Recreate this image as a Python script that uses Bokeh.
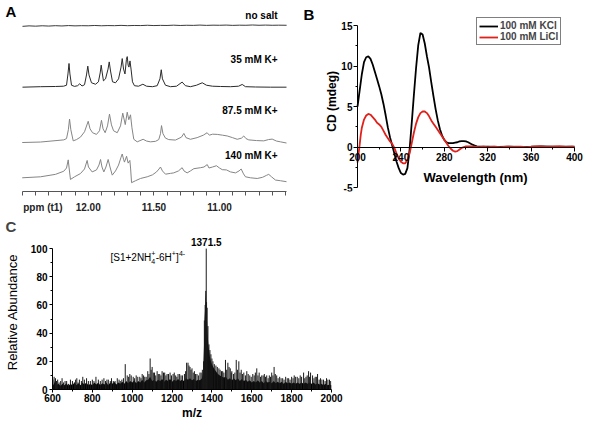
import math
from bokeh.plotting import figure
from bokeh.models import Range1d, FixedTicker, Label, Legend, LegendItem, PrintfTickFormatter, Title
from bokeh.layouts import column, row
from bokeh.embed import file_html
from bokeh.resources import INLINE

FONT = "Liberation Sans"

# ---------------- Panel A: 1H NMR imino region (ppm, intensity above own baseline) -------------
ppm_nosalt = [12.50, 12.45, 12.40, 12.35, 12.30, 12.25, 12.20, 12.15, 12.10, 12.05,
              12.00, 11.95, 11.90, 11.85, 11.80, 11.75, 11.70, 11.65, 11.60, 11.55,
              11.50, 11.45, 11.40, 11.35, 11.30, 11.25, 11.20, 11.15, 11.10, 11.05,
              11.00, 10.95, 10.90, 10.85, 10.80, 10.75, 10.70, 10.65, 10.60, 10.55, 10.49]
int_nosalt = [-0.4, 0.1, -0.2, 0.2, -0.1, 0.3, 0.0, 0.4, 0.1, 0.3,
              0.2, 0.5, 0.2, 0.4, 0.3, 0.6, 0.3, 0.5, 0.4, 0.7,
              0.4, 0.6, 0.5, 0.8, 0.5, 0.7, 0.6, 0.9, 0.6, 0.8,
              0.7, 0.9, 0.6, 0.8, 0.7, 1.0, 0.7, 0.9, 0.7, 0.8, 0.7]

ppm_35 = [12.500, 12.363, 12.249, 12.188, 12.165, 12.154, 12.146, 12.139, 12.127, 12.104,
          12.081, 12.064, 12.047, 12.028, 12.013, 12.003, 11.994, 11.975, 11.944, 11.922,
          11.909, 11.901, 11.893, 11.884, 11.868, 11.849, 11.840, 11.830, 11.815, 11.792,
          11.769, 11.750, 11.741, 11.731, 11.720, 11.709, 11.703, 11.696, 11.690, 11.682,
          11.674, 11.663, 11.648, 11.617, 11.584, 11.556, 11.511, 11.475, 11.454, 11.444,
          11.435, 11.412, 11.374, 11.328, 11.285, 11.260, 11.222, 11.176, 11.132, 11.100,
          11.054, 10.993, 10.917, 10.856, 10.828, 10.803, 10.727, 10.613, 10.491]
int_35 = [-0.5, 0.0, 0.2, 0.5, 1.5, 13.0, 23.7, 13.0, 1.5, 0.3,
          1.0, 3.0, 0.7, 2.0, 12.0, 21.0, 12.0, 4.0, 2.5, 5.0,
          14.0, 22.0, 14.0, 6.0, 8.0, 18.0, 25.3, 16.0, 5.0, 4.0,
          8.0, 20.0, 28.7, 18.0, 13.0, 28.0, 30.7, 22.0, 20.0, 26.3,
          18.0, 5.0, 1.0, 0.5, 2.5, 0.5, 0.0, 1.0, 8.0, 17.3,
          8.0, 1.5, 0.0, 0.5, 4.7, 1.0, 0.0, 1.5, 4.0, 1.5,
          0.5, 0.2, 0.0, 0.5, 2.3, 0.0, -0.3, -0.5, -0.5]

ppm_87 = [12.502, 12.363, 12.186, 12.165, 12.151, 12.142, 12.132, 12.114, 12.089, 12.059,
          12.028, 12.000, 11.986, 11.967, 11.937, 11.914, 11.899, 11.887, 11.871, 11.853,
          11.838, 11.823, 11.807, 11.779, 11.754, 11.737, 11.718, 11.703, 11.691, 11.678,
          11.667, 11.653, 11.627, 11.582, 11.556, 11.526, 11.488, 11.463, 11.450, 11.442,
          11.431, 11.412, 11.387, 11.336, 11.290, 11.272, 11.256, 11.222, 11.171, 11.124,
          11.095, 11.078, 11.054, 11.018, 10.978, 10.942, 10.902, 10.866, 10.833, 10.816,
          10.799, 10.778, 10.719, 10.664, 10.628, 10.600, 10.567, 10.537, 10.491]
int_87 = [0.0, 0.5, 2.7, 4.0, 13.0, 24.0, 13.0, 1.7, 3.0, 5.5,
          11.0, 21.7, 14.0, 10.0, 8.3, 12.0, 22.7, 14.0, 10.0, 17.0,
          29.0, 18.0, 12.0, 10.0, 17.0, 30.0, 18.3, 31.0, 23.3, 28.3,
          15.0, 3.3, 0.7, 3.3, 1.5, 0.7, 1.2, 3.0, 9.0, 17.3,
          9.0, 4.5, 3.0, 2.5, 5.5, 9.3, 5.0, 3.3, 5.0, 7.5,
          10.0, 7.5, 8.5, 8.3, 7.5, 6.7, 5.0, 3.3, 4.5, 6.7,
          4.0, 2.7, 2.0, 1.7, 3.0, 3.5, 1.5, 0.7, -0.5]

ppm_140 = [12.502, 12.363, 12.249, 12.186, 12.165, 12.152, 12.146, 12.135, 12.104, 12.059,
           12.028, 12.008, 11.998, 11.970, 11.937, 11.918, 11.906, 11.895, 11.881, 11.865,
           11.848, 11.834, 11.817, 11.792, 11.769, 11.750, 11.741, 11.731, 11.724, 11.708,
           11.696, 11.683, 11.677, 11.670, 11.640, 11.602, 11.551, 11.511, 11.480, 11.461,
           11.450, 11.435, 11.412, 11.374, 11.349, 11.313, 11.285, 11.271, 11.247, 11.222,
           11.196, 11.145, 11.119, 11.094, 11.081, 11.054, 11.024, 11.001, 10.980, 10.947,
           10.917, 10.879, 10.852, 10.836, 10.818, 10.803, 10.765, 10.714, 10.673, 10.643,
           10.626, 10.605, 10.575, 10.537, 10.491]
int_140 = [0.0, 1.0, 3.5, 6.7, 10.0, 18.3, 11.0, -1.7, 1.0, 4.3,
           9.0, 17.7, 11.0, 6.0, 8.0, 13.0, 18.7, 11.0, 6.0, 11.0,
           18.7, 11.0, 2.7, 7.0, 13.0, 21.0, 24.3, 19.0, 16.0, 22.0,
           15.0, 17.7, 9.0, -5.0, -3.0, -0.7, 1.0, 3.0, 6.0, 9.0,
           11.0, 7.0, 3.7, 4.5, 5.0, 7.0, 10.3, 7.0, 5.0, 7.0,
           9.3, 10.3, 11.0, 13.5, 10.0, 11.0, 12.3, 10.0, 8.3, 8.0,
           6.0, 5.0, 7.0, 9.0, 4.0, 1.0, 0.0, -0.7, 0.5, 2.5,
           3.5, 1.0, -2.3, -3.0, -4.0]

nmr_labels = ["no salt", "35 mM K+", "87.5 mM K+", "140 mM K+"]
ppm_axis_title = "ppm (t1)"
ppm_major = [12.0, 11.5, 11.0]
ppm_minor = [12.5, 12.4, 12.3, 12.2, 12.1, 12.0, 11.9, 11.8, 11.7, 11.6, 11.5,
             11.4, 11.3, 11.2, 11.1, 11.0, 10.9, 10.8, 10.7, 10.6, 10.5]

# ---------------- Panel B: CD spectra ----------------
nm_kcl = [200, 202, 204, 206, 208, 210, 212, 214, 216, 218,
          220, 222, 224, 226, 228, 230, 232, 234, 236, 238,
          240, 242, 244, 246, 248, 250, 252, 254, 256, 258,
          260, 262, 264, 266, 268, 270, 272, 274, 276, 278,
          280, 282, 284, 286, 288, 290, 292, 294, 296, 298,
          300, 302, 304, 306, 308, 310, 314, 320, 330, 340,
          350, 360, 370, 380, 390, 400]
cd_kcl = [5.0, 7.0, 9.0, 10.5, 11.1, 11.2, 10.9, 10.2, 9.3, 8.4,
          7.5, 6.5, 5.3, 3.9, 2.4, 1.2, 0.2, -0.8, -1.8, -2.6,
          -3.2, -3.4, -3.3, -2.6, -0.3, 3.0, 6.5, 9.8, 12.6, 14.1,
          13.9, 12.8, 11.2, 9.8, 8.0, 6.3, 4.7, 3.3, 2.2, 1.4,
          0.9, 0.6, 0.5, 0.5, 0.5, 0.55, 0.6, 0.7, 0.75, 0.75,
          0.7, 0.6, 0.45, 0.3, 0.2, 0.1, 0.05, 0.05, 0.02, 0.05,
          0.03, 0.05, 0.08, 0.05, 0.05, 0.05]

nm_licl = [200, 201, 202, 203, 204, 206, 208, 210, 212, 214,
           216, 218, 220, 222, 224, 226, 228, 230, 232, 234,
           236, 238, 240, 242, 244, 246, 248, 250, 252, 254,
           256, 258, 260, 262, 264, 266, 268, 270, 272, 274,
           276, 278, 280, 282, 284, 286, 288, 290, 292, 294,
           296, 298, 300, 304, 308, 312, 316, 320, 326, 332,
           338, 344, 350, 356, 362, 368, 374, 380, 386, 392,
           398, 400]
cd_licl = [-1.9, -0.8, 0.3, 1.5, 2.4, 3.4, 3.9, 4.1, 4.0, 3.7,
           3.4, 3.0, 2.8, 2.5, 2.0, 1.5, 1.1, 0.7, 0.4, -0.1,
           -0.8, -1.4, -1.8, -2.0, -2.0, -1.6, -0.8, 0.5, 1.8, 2.9,
           3.7, 4.2, 4.4, 4.4, 4.2, 3.8, 3.3, 2.9, 2.5, 2.1,
           1.7, 1.3, 0.9, 0.5, 0.1, -0.2, -0.45, -0.55, -0.5, -0.3,
           -0.1, 0.0, 0.1, 0.1, 0.05, 0.0, 0.05, -0.02, 0.05, 0.0,
           0.06, 0.02, 0.05, 0.0, 0.06, 0.08, 0.02, 0.06, 0.1, 0.04,
           0.05, 0.0]
cd_names = ["100 mM KCl", "100 mM LiCl"]
nm_major = [200, 240, 280, 320, 360, 400]
nm_minor = [220, 260, 300, 340, 380]
cd_major = [-5, 0, 5, 10, 15]
cd_major_labels = ["-5", "0", "5", "10", "15"]
cd_minor = [-2.5, 2.5, 7.5, 12.5]

# ---------------- Panel C: ESI mass spectrum ----------------
env_mz = [600, 605, 612, 620, 630, 640, 650, 660, 670, 680,
          690, 700, 710, 720, 730, 740, 750, 760, 770, 780,
          790, 800, 810, 820, 830, 840, 850, 860, 870, 880,
          890, 900, 910, 920, 930, 940, 950, 960, 970, 980,
          990, 1000, 1010, 1020, 1030, 1040, 1050, 1060, 1070, 1080,
          1090, 1100, 1110, 1120, 1130, 1140, 1150, 1160, 1170, 1180,
          1190, 1200, 1210, 1220, 1230, 1240, 1250, 1260, 1270, 1280,
          1290, 1300, 1310, 1320, 1330, 1340, 1350, 1356, 1360, 1363,
          1366, 1369, 1372, 1375, 1378, 1382, 1386, 1390, 1395, 1400,
          1410, 1420, 1430, 1440, 1450, 1460, 1470, 1480, 1490, 1500,
          1510, 1520, 1530, 1540, 1550, 1560, 1570, 1580, 1590, 1600,
          1610, 1620, 1630, 1640, 1650, 1660, 1670, 1680, 1690, 1700,
          1710, 1720, 1730, 1740, 1750, 1760, 1770, 1780, 1790, 1800,
          1810, 1820, 1830, 1840, 1850, 1860, 1870, 1880, 1890, 1900,
          1910, 1920, 1930, 1940, 1950, 1960, 1970, 1980, 1990, 2000]
env_val = [5, 3, 6, 3, 4, 2.5, 4, 3, 4.5, 2.5,
           4, 3, 5, 3, 4.5, 3, 5, 3.5, 5, 3,
           4, 3, 5, 3.5, 5, 3, 4.5, 3.5, 5, 3,
           5, 4, 5.5, 3.5, 5, 4, 5.5, 4, 6, 4.5,
           6, 5, 6.5, 4.5, 6, 5, 7, 5, 6.5, 7,
           9, 6, 7, 5.5, 7, 6, 7.5, 5.5, 7, 6,
           7.5, 5.5, 7, 6, 7.5, 6, 7, 6, 8, 7,
           8, 6.5, 7.5, 6, 7, 6.5, 8, 12, 30, 50,
           58, 68, 60, 50, 40, 32, 27, 23, 20, 18,
           15, 13, 11, 10, 9, 8.5, 9, 7, 8, 6.5,
           8, 6.5, 8, 6, 7.5, 6, 7, 5.5, 6.5, 5,
           6, 5, 6.5, 5, 6, 4.5, 6, 5, 5.5, 4.5,
           6, 4.5, 5.5, 4.5, 5.5, 4, 5.5, 4.5, 5, 4,
           5, 4, 5, 4, 5, 4, 5, 4, 5, 4,
           5, 3.5, 4.5, 3.5, 4, 3, 4, 3, 3.5, 3]
spk_mz = [608, 615, 626, 648, 663, 690, 722, 735, 752, 771,
          790, 818, 830, 858, 880, 905, 925, 948, 965, 975,
          988, 1005, 1020, 1038, 1050, 1063, 1078, 1090, 1100, 1112,
          1125, 1138, 1150, 1163, 1175, 1190, 1205, 1218, 1230, 1245,
          1262, 1273, 1280, 1290, 1300, 1312, 1325, 1340, 1352, 1362,
          1366, 1371.5, 1376, 1380, 1395, 1405, 1420, 1435, 1448, 1460,
          1468, 1480, 1492, 1500, 1515, 1522, 1535, 1547, 1560, 1575,
          1590, 1605, 1625, 1637, 1650, 1663, 1675, 1688, 1700, 1712,
          1725, 1740, 1755, 1770, 1785, 1800, 1813, 1828, 1843, 1860,
          1872, 1885, 1895, 1905, 1918, 1930, 1945, 1960, 1975, 1990]
spk_val = [9, 8, 7, 8, 6, 7, 8, 7, 9, 8,
           6, 9, 7, 8, 7, 6, 8, 7, 18, 10,
           11, 9, 10, 9, 11, 9, 13, 22, 16, 12,
           13, 11, 13, 12, 11, 12, 11, 10, 11, 10,
           11, 19, 19, 16, 15, 13, 11, 12, 14, 49,
           60, 100, 58, 45, 25, 20, 17, 15, 13, 12,
           21, 19, 15, 13, 12, 21, 20, 14, 12, 13,
           10, 11, 15, 12, 10, 11, 10, 10, 12, 16,
           10, 9, 8, 9, 8, 9, 10, 9, 10, 12,
           9, 13, 12, 10, 9, 11, 8, 7, 8, 7]
spk2_mz = [602, 620, 633, 641, 655, 671, 680, 700, 710, 716,
           728, 745, 760, 780, 800, 808, 840, 849, 866, 873,
           890, 896, 914, 934, 940, 956, 982, 995, 1012, 1028,
           1044, 1057, 1070, 1084, 1095, 1106, 1118, 1131, 1144, 1157,
           1169, 1182, 1197, 1211, 1224, 1238, 1252, 1268, 1285, 1295,
           1306, 1318, 1332, 1346, 1358, 1369, 1373, 1385, 1390, 1400,
           1412, 1427, 1441, 1454, 1474, 1486, 1497, 1508, 1528, 1541,
           1553, 1568, 1582, 1597, 1612, 1618, 1631, 1644, 1657, 1669,
           1682, 1694, 1706, 1718, 1732, 1747, 1762, 1778, 1792, 1807,
           1820, 1836, 1850, 1866, 1878, 1890, 1912, 1924, 1938, 1952,
           1968, 1982, 1996]
spk2_val = [7, 6, 5, 6, 5, 6, 4, 6, 5, 7,
            5, 6, 7, 6, 7, 6, 6, 7, 6, 7,
            6, 8, 6, 7, 6, 8, 9, 10, 8, 9,
            8, 10, 9, 11, 14, 12, 10, 11, 10, 12,
            10, 11, 10, 12, 9, 11, 10, 13, 17, 14,
            12, 11, 10, 12, 20, 70, 62, 32, 28, 22,
            18, 16, 14, 13, 14, 16, 12, 11, 14, 12,
            11, 10, 11, 9, 10, 12, 10, 9, 10, 9,
            8, 9, 10, 11, 8, 8, 7, 8, 7, 8,
            9, 8, 9, 8, 10, 9, 8, 9, 7, 7,
            6, 7, 6]
mz_major = [600, 800, 1000, 1200, 1400, 1600, 1800, 2000]
mz_minor = [700, 900, 1100, 1300, 1500, 1700, 1900]
ab_major = [0, 20, 40, 60, 80, 100]
ab_minor = [10, 30, 50, 70, 90]
peak_label = "1371.5"
peak_mz = 1371.5


def style_axis(ax, color="black", size="10px"):
    ax.major_label_text_font = FONT
    ax.major_label_text_font_size = size
    ax.major_label_text_font_style = "bold"
    ax.major_label_text_color = "black"
    ax.axis_line_color = color
    ax.major_tick_line_color = color
    ax.minor_tick_line_color = color
    ax.major_tick_in = 0
    ax.major_tick_out = 4
    ax.minor_tick_in = 0
    ax.minor_tick_out = 2
    ax.major_label_standoff = 2
    ax.axis_label_text_font = FONT
    ax.axis_label_text_color = "black"


def lab(p, x, y, text, size="10px", style="bold", align="left", baseline="middle",
        color="black", angle=0.0):
    p.add_layout(Label(x=x, y=y, text=text, text_font=FONT, text_font_size=size,
                       text_font_style=style, text_align=align, text_baseline=baseline,
                       text_color=color, angle=angle))


# ================= Panel A (also hosts the "B" panel letter) =================
pA = figure(width=315, height=215, title=None,
            x_range=Range1d(12.6674, 10.2702), y_range=Range1d(0, 195),
            y_axis_location=None, output_backend="svg", toolbar_location=None,
            min_border_left=0, min_border_right=0, min_border_top=0, min_border_bottom=20)
pA.outline_line_color = None
pA.grid.visible = False
axA = pA.xaxis[0]
axA.bounds = (10.49, 12.5)
axA.ticker = FixedTicker(ticks=[12.344] + ppm_major, minor_ticks=ppm_minor)
axA.formatter = PrintfTickFormatter(format="%.2f")
axA.major_label_overrides = {12.344: ppm_axis_title}
style_axis(axA, color="#555555")
axA.major_tick_out = 0
axA.minor_tick_out = 4
axA.major_label_standoff = 6
axA.major_label_text_color = "#222222"

offsets = [169, 107, 50, 14]
traces = [(ppm_nosalt, int_nosalt, "#3a3a3a"), (ppm_35, int_35, "#2a2a2a"),
          (ppm_87, int_87, "#858585"), (ppm_140, int_140, "#858585")]
for (xs, ys, col), off in zip(traces, offsets):
    pA.line(xs, [off + v for v in ys], line_color=col, line_width=1)

label_y = [180, 134.5, 82.3, 37]
for txt, ly in zip(nmr_labels, label_y):
    lab(pA, 10.559, ly, txt, align="right")
lab(pA, 12.629, 192.5, "A", size="15px", baseline="top")
lab(pA, 10.3615, 189.5, "B", size="15px", baseline="top")

# ================= Panel B =================
pB = figure(width=272, height=215, title=None,
            x_range=Range1d(170.51, 410.14), y_range=Range1d(-5.484, 18.11),
            output_backend="svg", toolbar_location=None,
            min_border_left=10, min_border_right=2, min_border_top=0, min_border_bottom=20)
pB.outline_line_color = None
pB.grid.visible = False
axBx = pB.xaxis[0]
axBx.fixed_location = 0
axBx.bounds = (200, 400)
axBx.ticker = FixedTicker(ticks=nm_major, minor_ticks=nm_minor)
style_axis(axBx)
axBy = pB.yaxis[0]
axBy.fixed_location = 200
axBy.bounds = (-5, 15)
axBy.ticker = FixedTicker(ticks=cd_major, minor_ticks=cd_minor)
style_axis(axBy)
axBy.major_label_text_color = None   # tick values are drawn as labels below
axBy.major_label_standoff = 0

for v, t in zip(cd_major, cd_major_labels):
    lab(pB, 195.39, v, t, align="right")
lab(pB, 176.96, 5.65, "CD (mdeg)", size="12px", align="center", angle=math.pi / 2)

rK = pB.line(nm_kcl, cd_kcl, line_color="black", line_width=1.8)
rL = pB.line(nm_licl, cd_licl, line_color="#e0201b", line_width=1.8)
leg = Legend(items=[LegendItem(label=cd_names[0], renderers=[rK]),
                    LegendItem(label=cd_names[1], renderers=[rL])],
             location=(151, 146))
leg.label_text_font = FONT
leg.label_text_font_size = "10px"
leg.label_text_font_style = "bold"
leg.glyph_width = 19
leg.glyph_height = 10
leg.label_height = 10
leg.label_standoff = 2
leg.padding = 2
leg.spacing = 0
leg.margin = 0
leg.border_line_color = "black"
leg.border_line_width = 1
leg.background_fill_alpha = 1.0
pB.add_layout(leg)
lab(pB, 308.8, -3.79, "Wavelength (nm)", size="13px", align="center")

# ================= Panel C =================
pC = figure(width=346, height=207,
            x_range=Range1d(600, 2000), y_range=Range1d(0, 110),
            output_backend="svg", toolbar_location=None,
            min_border_left=52, min_border_right=15, min_border_top=18, min_border_bottom=28)
pC.title = Title(text="C", align="left", offset=-47, standoff=0,
                 text_font=FONT, text_font_size="15px", text_font_style="bold")
pC.outline_line_color = None
pC.grid.visible = False
axCx = pC.xaxis[0]
axCx.ticker = FixedTicker(ticks=mz_major, minor_ticks=mz_minor)
style_axis(axCx)
axCx.major_tick_out = 3
axCx.major_label_standoff = 1
axCx.axis_label = "m/z"
axCx.axis_label_text_font_size = "12px"
axCx.axis_label_text_font_style = "bold"
axCx.axis_label_standoff = 1
axCy = pC.yaxis[0]
axCy.bounds = (0, 100)
axCy.ticker = FixedTicker(ticks=ab_major, minor_ticks=ab_minor)
style_axis(axCy)
axCy.major_tick_out = 3
axCy.axis_label = "Relative Abundance"
axCy.axis_label_text_font_size = "13px"
axCy.axis_label_text_font_style = "normal"
axCy.axis_label_standoff = 8

pC.varea(x=env_mz, y1=[0] * len(env_mz), y2=env_val, fill_color="black")
pC.segment(x0=spk_mz, y0=[0] * len(spk_mz), x1=spk_mz, y1=spk_val,
           line_color="#1a1a1a", line_width=1)
pC.segment(x0=spk2_mz, y0=[0] * len(spk2_mz), x1=spk2_mz, y1=spk2_val,
           line_color="#1a1a1a", line_width=1)
lab(pC, peak_mz, 104.6, peak_label, align="center")

# ion annotation [S1+2NH4+ -6H+]4-
lab(pC, 891, 93.6, "[S1+2NH", style="normal")
lab(pC, 1096, 96.3, "+", size="7px", style="normal")
lab(pC, 1096, 90.9, "4", size="7px", style="normal")
lab(pC, 1117.6, 93.6, "-6H", style="normal")
lab(pC, 1198.4, 96.3, "+", size="7px", style="normal")
lab(pC, 1220, 93.6, "]", style="normal")
lab(pC, 1234.6, 96.3, "4-", size="7px", style="normal")

layout = column(row(pA, pB), pC)
open("out.html", "w").write(file_html(layout, INLINE))
